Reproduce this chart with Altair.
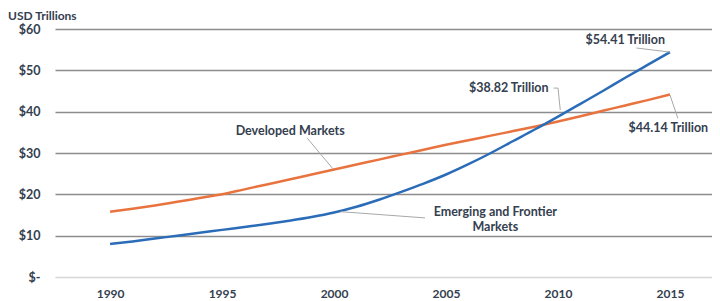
import altair as alt
import pandas as pd

years = list(range(1990, 2016))
developed = [15.8, 16.5, 17.3, 18.2, 19.1, 20.0, 21.2, 22.4, 23.6, 24.8, 26.0,
             27.2, 28.4, 29.6, 30.8, 32.0, 33.1, 34.2, 35.3, 36.4, 37.6,
             38.9, 40.2, 41.5, 42.8, 44.14]
emerging = [8.0, 8.6, 9.3, 10.0, 10.7, 11.4, 12.1, 12.8, 13.6, 14.5, 15.6,
            17.0, 18.7, 20.6, 22.6, 24.8, 27.3, 30.0, 32.9, 35.8, 38.82,
            41.9, 45.0, 48.2, 51.3, 54.41]
series_names = ["Developed Markets", "Emerging and Frontier Markets"]
series_colors = ["#E8733F", "#2B6CB8"]

x_ticks = [1990, 1995, 2000, 2005, 2010, 2015]
y_ticks = [0, 10, 20, 30, 40, 50, 60]

# annotation labels (anchored in data space)
ann_text = ["$54.41 Trillion", "$38.82 Trillion", "Developed Markets"]
ann_x = [2013.0, 2007.8, 1998.04]
ann_y = [57.3, 45.7, 35.3]

ann_left_text = ["$44.14 Trillion"]
ann_left_x = [2013.15]
ann_left_y = [36.05]

em_label = [["Emerging and Frontier", "Markets"]]
em_x = [2007.2]
em_y = [15.7]

# leader lines
leader_id = [1, 1, 2, 2, 2, 3, 3, 4, 4, 5, 5]
leader_x = [2013.5, 2015.0, 2009.8, 2010.0, 2010.1, 2015.0, 2015.35, 1998.8, 1999.96, 2000.3, 2004.06]
leader_y = [55.4, 54.41, 45.7, 45.7, 40.4, 44.0, 38.4, 33.6, 26.1, 15.8, 14.3]
leader_order = [0, 1, 0, 1, 2, 0, 1, 0, 1, 0, 1]

FONT = "Lato"
TXT = "#34404F"

df = pd.DataFrame({
    "year": years * 2,
    "value": developed + emerging,
    "series": [series_names[0]] * len(years) + [series_names[1]] * len(years),
})
ann_df = pd.DataFrame({"t": ann_text, "x": ann_x, "y": ann_y})
ann_left_df = pd.DataFrame({"t": ann_left_text, "x": ann_left_x, "y": ann_left_y})
em_df = pd.DataFrame({"t": em_label, "x": em_x, "y": em_y})
leader_df = pd.DataFrame({"id": leader_id, "x": leader_x, "y": leader_y, "o": leader_order})

xscale = alt.Scale(domain=[1987.54, 2016.875], nice=False, zero=False)
yscale = alt.Scale(domain=[0, 60], nice=False)

lines = alt.Chart(df).mark_line(strokeWidth=2.5, interpolate="monotone").encode(
    x=alt.X("year:Q", scale=xscale, title=None,
            axis=alt.Axis(values=x_ticks, format="d", grid=False, domain=False, ticks=False,
                          labelPadding=11, labelFont=FONT, labelFontSize=12,
                          labelFontWeight="bold", labelColor=TXT)),
    y=alt.Y("value:Q", scale=yscale, title=None,
            axis=alt.Axis(values=y_ticks, grid=True, domain=False, ticks=False,
                          labelPadding=15, labelFont=FONT, labelFontSize=12.5,
                          labelFontWeight="bold", labelColor=TXT,
                          labelExpr="datum.value == 0 ? '$-' : '$' + datum.value",
                          gridColor={"condition": {"test": "datum.value === 0", "value": "#d6d6d6"},
                                     "value": "#8c8c8c"},
                          gridWidth=1.5)),
    color=alt.Color("series:N", scale=alt.Scale(domain=series_names, range=series_colors), legend=None),
)

leaders = alt.Chart(leader_df).mark_line(color="#a8a8a8", strokeWidth=1).encode(
    x=alt.X("x:Q", scale=xscale),
    y=alt.Y("y:Q", scale=yscale),
    detail="id:N",
    order="o:Q",
)

labels = alt.Chart(ann_df).mark_text(font=FONT, fontSize=12.5, fontWeight="bold", color=TXT,
                                     align="center", baseline="middle").encode(
    x=alt.X("x:Q", scale=xscale), y=alt.Y("y:Q", scale=yscale), text="t:N")

labels_left = alt.Chart(ann_left_df).mark_text(font=FONT, fontSize=12.5, fontWeight="bold", color=TXT,
                                               align="left", baseline="middle").encode(
    x=alt.X("x:Q", scale=xscale), y=alt.Y("y:Q", scale=yscale), text="t:N")

em_labels = alt.Chart(em_df).mark_text(font=FONT, fontSize=12.5, fontWeight="bold", color=TXT,
                                       align="center", baseline="middle", lineHeight=15).encode(
    x=alt.X("x:Q", scale=xscale), y=alt.Y("y:Q", scale=yscale), text="t")

chart = alt.layer(lines, leaders, labels, labels_left, em_labels).properties(
    width=657, height=248,
    autosize=alt.AutoSizeParams(type="none"),
    padding={"left": 47, "top": 21, "right": 0, "bottom": 24},
    title=alt.TitleParams("USD Trillions", anchor="start", frame="group", dx=-47, dy=14, offset=2,
                          baseline="bottom", font=FONT, fontSize=12, fontWeight="bold", color=TXT),
).configure_view(stroke=None)

chart.save("out.html", embed_options={"renderer": "svg", "actions": False})
